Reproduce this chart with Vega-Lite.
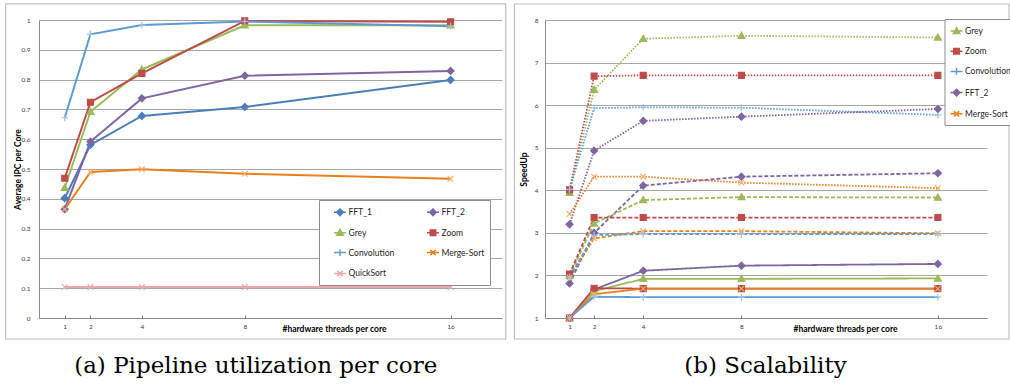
{
  "$schema": "https://vega.github.io/schema/vega-lite/v6.json",
  "padding": {"left": 5, "top": 3, "right": 0, "bottom": 0},
  "spacing": 6,
  "background": "white",
  "config": {"view": {"stroke": null}, "font": "Lato"},
  "resolve": {"scale": {"stroke": "independent", "fill": "independent", "shape": "independent", "x": "independent", "y": "independent", "strokeDash": "independent"}, "legend": {"stroke": "independent"}},
  "hconcat": [
    {
      "width": 463,
      "height": 298,
      "title": {"text": "(a) Pipeline utilization per core", "orient": "bottom", "anchor": "middle", "frame": "bounds", "font": "DejaVu Serif", "fontSize": 23, "fontWeight": "normal", "color": "#000000", "offset": 15},
      "data": {"values": [
        {"series": "FFT_1", "threads": 1, "ipc": 0.402}, {"series": "FFT_1", "threads": 2, "ipc": 0.581}, {"series": "FFT_1", "threads": 4, "ipc": 0.678}, {"series": "FFT_1", "threads": 8, "ipc": 0.708}, {"series": "FFT_1", "threads": 16, "ipc": 0.799},
        {"series": "FFT_2", "threads": 1, "ipc": 0.365}, {"series": "FFT_2", "threads": 2, "ipc": 0.592}, {"series": "FFT_2", "threads": 4, "ipc": 0.737}, {"series": "FFT_2", "threads": 8, "ipc": 0.813}, {"series": "FFT_2", "threads": 16, "ipc": 0.829},
        {"series": "Grey", "threads": 1, "ipc": 0.437}, {"series": "Grey", "threads": 2, "ipc": 0.692}, {"series": "Grey", "threads": 4, "ipc": 0.834}, {"series": "Grey", "threads": 8, "ipc": 0.982}, {"series": "Grey", "threads": 16, "ipc": 0.982},
        {"series": "Zoom", "threads": 1, "ipc": 0.469}, {"series": "Zoom", "threads": 2, "ipc": 0.724}, {"series": "Zoom", "threads": 4, "ipc": 0.821}, {"series": "Zoom", "threads": 8, "ipc": 0.997}, {"series": "Zoom", "threads": 16, "ipc": 0.994},
        {"series": "Convolution", "threads": 1, "ipc": 0.672}, {"series": "Convolution", "threads": 2, "ipc": 0.952}, {"series": "Convolution", "threads": 4, "ipc": 0.983}, {"series": "Convolution", "threads": 8, "ipc": 0.995}, {"series": "Convolution", "threads": 16, "ipc": 0.979},
        {"series": "Merge-Sort", "threads": 1, "ipc": 0.365}, {"series": "Merge-Sort", "threads": 2, "ipc": 0.49}, {"series": "Merge-Sort", "threads": 4, "ipc": 0.499}, {"series": "Merge-Sort", "threads": 8, "ipc": 0.484}, {"series": "Merge-Sort", "threads": 16, "ipc": 0.467},
        {"series": "QuickSort", "threads": 1, "ipc": 0.104}, {"series": "QuickSort", "threads": 2, "ipc": 0.104}, {"series": "QuickSort", "threads": 4, "ipc": 0.104}, {"series": "QuickSort", "threads": 8, "ipc": 0.104}, {"series": "QuickSort", "threads": 16, "ipc": 0.104}
      ]},
      "resolve": {"scale": {"stroke": "independent"}},
      "layer": [
        {
          "data": {"values": [{}]},
          "mark": {"type": "rect", "fill": null, "strokeWidth": 1.2, "clip": false},
          "encoding": {
            "x": {"datum": -1.295, "type": "quantitative", "scale": {"domain": [0, 18], "nice": false, "zero": false}, "axis": {"values": [1, 2, 4, 8, 16], "title": "#hardware threads per core", "titleX": 295, "titleY": 10, "titleAlign": "center", "titleBaseline": "middle", "titleFontSize": 8.5, "titleFontWeight": "bold", "titleColor": "#000000", "labelFontSize": 6.5, "labelColor": "#404040", "labelPadding": 8, "tickSize": -3, "tickColor": "#7f7f7f", "domainColor": "#8c8c8c", "grid": false, "labelFlush": false}},
            "x2": {"datum": 18.145},
            "y": {"datum": 1.054, "type": "quantitative", "scale": {"domain": [0, 1], "nice": false, "zero": false}, "axis": {"values": [0, 0.1, 0.2, 0.3, 0.4, 0.5, 0.6, 0.7, 0.8, 0.9, 1], "format": "~g", "title": "Average IPC per Core", "titleX": -22, "titleBaseline": "middle", "titleFontSize": 8.5, "titleFontWeight": "bold", "titleColor": "#000000", "labelFontSize": 6.5, "labelColor": "#404040", "labelPadding": 9, "ticks": false, "grid": true, "gridColor": "#a6a6a6", "domainColor": "#8c8c8c"}},
            "y2": {"datum": -0.0705},
            "stroke": {"value": "#bfbfbf"}
          }
        },
        {
          "mark": {"type": "line", "strokeWidth": 2},
          "encoding": {
            "x": {"field": "threads", "type": "quantitative", "scale": {"domain": [0, 18], "nice": false, "zero": false}, "axis": {"values": [1, 2, 4, 8, 16], "title": "#hardware threads per core", "titleX": 295, "titleY": 10, "titleAlign": "center", "titleBaseline": "middle", "titleFontSize": 8.5, "titleFontWeight": "bold", "titleColor": "#000000", "labelFontSize": 6.5, "labelColor": "#404040", "labelPadding": 8, "tickSize": -3, "tickColor": "#7f7f7f", "domainColor": "#8c8c8c", "grid": false, "labelFlush": false}},
            "y": {"field": "ipc", "type": "quantitative", "scale": {"domain": [0, 1], "nice": false, "zero": false}, "axis": {"values": [0, 0.1, 0.2, 0.3, 0.4, 0.5, 0.6, 0.7, 0.8, 0.9, 1], "format": "~g", "title": "Average IPC per Core", "titleX": -22, "titleBaseline": "middle", "titleFontSize": 8.5, "titleFontWeight": "bold", "titleColor": "#000000", "labelFontSize": 6.5, "labelColor": "#404040", "labelPadding": 9, "ticks": false, "grid": true, "gridColor": "#a6a6a6", "domainColor": "#8c8c8c"}},
            "stroke": {"field": "series", "type": "nominal",
              "scale": {"domain": ["FFT_1", "FFT_2", "Grey", "Zoom", "Convolution", "Merge-Sort", "QuickSort"], "range": ["#4a7ebb", "#8064a2", "#9bbb59", "#be4b48", "#5b9bd5", "#ec7f19", "#eaaaaa"]},
              "legend": {"title": " ", "titleOrient": "left", "titlePadding": 9, "titleFontSize": 8.5, "orient": "none", "direction": "horizontal", "legendX": 280, "legendY": 180, "columns": 2, "padding": 5, "rowPadding": 6.8, "columnPadding": 29, "strokeColor": "#8c8c8c", "fillColor": "white", "symbolSize": 144, "symbolStrokeWidth": 1.5, "labelFont": "Lato", "labelFontSize": 8.5, "labelColor": "#262626", "labelOffset": 1.5,
                "encode": {"symbols": {"update": {
                  "shape": {"signal": "{'FFT_1':'M-1,0H1M0,-0.55L0.55,0L0,0.55L-0.55,0Z','FFT_2':'M-1,0H1M0,-0.55L0.55,0L0,0.55L-0.55,0Z','Grey':'M-1,0H1M0,-0.55L0.55,0.4L-0.55,0.4Z','Zoom':'M-1,0H1M-0.45,-0.45H0.45V0.45H-0.45Z','Convolution':'M-1,0H1M0,-0.55V0.55','Merge-Sort':'M-1,0H1M-0.45,-0.45L0.45,0.45M0.45,-0.45L-0.45,0.45','QuickSort':'M-1,0H1M-0.45,-0.45L0.45,0.45M0.45,-0.45L-0.45,0.45'}[datum.value]"},
                  "stroke": {"signal": "{'FFT_1':'#4a7ebb','FFT_2':'#8064a2','Grey':'#9bbb59','Zoom':'#be4b48','Convolution':'#5b9bd5','Merge-Sort':'#ec7f19','QuickSort':'#eaaaaa'}[datum.value]"},
                  "fill": {"signal": "{'FFT_1':'#4a7ebb','FFT_2':'#8064a2','Grey':'#9bbb59','Zoom':'#be4b48','Convolution':'transparent','Merge-Sort':'transparent','QuickSort':'transparent'}[datum.value]"},
                  "strokeWidth": {"value": 1.5},
                  "strokeDash": {"value": []},
                  "opacity": {"value": 1}
                }}}
              }
            }
          }
        },
        {
          "mark": {"type": "point", "strokeWidth": 1.2, "opacity": 1, "size": 49},
          "encoding": {
            "x": {"field": "threads", "type": "quantitative", "scale": {"domain": [0, 18], "nice": false, "zero": false}, "axis": {"values": [1, 2, 4, 8, 16], "title": "#hardware threads per core", "titleX": 295, "titleY": 10, "titleAlign": "center", "titleBaseline": "middle", "titleFontSize": 8.5, "titleFontWeight": "bold", "titleColor": "#000000", "labelFontSize": 6.5, "labelColor": "#404040", "labelPadding": 8, "tickSize": -3, "tickColor": "#7f7f7f", "domainColor": "#8c8c8c", "grid": false, "labelFlush": false}},
            "y": {"field": "ipc", "type": "quantitative", "scale": {"domain": [0, 1], "nice": false, "zero": false}, "axis": {"values": [0, 0.1, 0.2, 0.3, 0.4, 0.5, 0.6, 0.7, 0.8, 0.9, 1], "format": "~g", "title": "Average IPC per Core", "titleX": -22, "titleBaseline": "middle", "titleFontSize": 8.5, "titleFontWeight": "bold", "titleColor": "#000000", "labelFontSize": 6.5, "labelColor": "#404040", "labelPadding": 9, "ticks": false, "grid": true, "gridColor": "#a6a6a6", "domainColor": "#8c8c8c"}},
            "shape": {"field": "series", "type": "nominal", "legend": null, "scale": {"domain": ["FFT_1", "FFT_2", "Grey", "Zoom", "Convolution", "Merge-Sort", "QuickSort"], "range": ["M0,-1L1,0L0,1L-1,0Z", "M0,-1L1,0L0,1L-1,0Z", "M0,-1L1,0.75L-1,0.75Z", "M-0.85,-0.85H0.85V0.85H-0.85Z", "M-1,0H1M0,-1V1", "M-0.8,-0.8L0.8,0.8M0.8,-0.8L-0.8,0.8", "M-0.8,-0.8L0.8,0.8M0.8,-0.8L-0.8,0.8"]}},
            "fill": {"field": "series", "type": "nominal", "legend": null, "scale": {"domain": ["FFT_1", "FFT_2", "Grey", "Zoom", "Convolution", "Merge-Sort", "QuickSort"], "range": ["#4a7ebb", "#8064a2", "#9bbb59", "#be4b48", "transparent", "transparent", "transparent"]}},
            "stroke": {"field": "series", "type": "nominal", "legend": null, "scale": {"domain": ["FFT_1", "FFT_2", "Grey", "Zoom", "Convolution", "Merge-Sort", "QuickSort"], "range": ["#4a7ebb", "#8064a2", "#9bbb59", "#be4b48", "#9dc3e6", "#f7ad66", "#eaaaaa"]}}
          }
        }
      ]
    },
    {
      "width": 442,
      "height": 298,
      "title": {"text": "(b) Scalability", "orient": "bottom", "anchor": "middle", "frame": "bounds", "font": "DejaVu Serif", "fontSize": 23, "fontWeight": "normal", "color": "#000000", "offset": 15},
      "data": {"values": [
        {"series": "Grey", "style": "dotted", "threads": 1, "speedup": 3.94}, {"series": "Grey", "style": "dotted", "threads": 2, "speedup": 6.36}, {"series": "Grey", "style": "dotted", "threads": 4, "speedup": 7.56}, {"series": "Grey", "style": "dotted", "threads": 8, "speedup": 7.63}, {"series": "Grey", "style": "dotted", "threads": 16, "speedup": 7.59},
        {"series": "Zoom", "style": "dotted", "threads": 1, "speedup": 4.01}, {"series": "Zoom", "style": "dotted", "threads": 2, "speedup": 6.68}, {"series": "Zoom", "style": "dotted", "threads": 4, "speedup": 6.7}, {"series": "Zoom", "style": "dotted", "threads": 8, "speedup": 6.7}, {"series": "Zoom", "style": "dotted", "threads": 16, "speedup": 6.7},
        {"series": "Convolution", "style": "dotted", "threads": 1, "speedup": 4.02}, {"series": "Convolution", "style": "dotted", "threads": 2, "speedup": 5.93}, {"series": "Convolution", "style": "dotted", "threads": 4, "speedup": 5.95}, {"series": "Convolution", "style": "dotted", "threads": 8, "speedup": 5.94}, {"series": "Convolution", "style": "dotted", "threads": 16, "speedup": 5.77},
        {"series": "FFT_2", "style": "dotted", "threads": 1, "speedup": 3.2}, {"series": "FFT_2", "style": "dotted", "threads": 2, "speedup": 4.93}, {"series": "FFT_2", "style": "dotted", "threads": 4, "speedup": 5.63}, {"series": "FFT_2", "style": "dotted", "threads": 8, "speedup": 5.73}, {"series": "FFT_2", "style": "dotted", "threads": 16, "speedup": 5.91},
        {"series": "Merge-Sort", "style": "dotted", "threads": 1, "speedup": 3.44}, {"series": "Merge-Sort", "style": "dotted", "threads": 2, "speedup": 4.32}, {"series": "Merge-Sort", "style": "dotted", "threads": 4, "speedup": 4.32}, {"series": "Merge-Sort", "style": "dotted", "threads": 8, "speedup": 4.18}, {"series": "Merge-Sort", "style": "dotted", "threads": 16, "speedup": 4.05},
        {"series": "FFT_2", "style": "dashed", "threads": 1, "speedup": 1.81}, {"series": "FFT_2", "style": "dashed", "threads": 2, "speedup": 3.0}, {"series": "FFT_2", "style": "dashed", "threads": 4, "speedup": 4.11}, {"series": "FFT_2", "style": "dashed", "threads": 8, "speedup": 4.32}, {"series": "FFT_2", "style": "dashed", "threads": 16, "speedup": 4.4},
        {"series": "Grey", "style": "dashed", "threads": 1, "speedup": 1.99}, {"series": "Grey", "style": "dashed", "threads": 2, "speedup": 3.22}, {"series": "Grey", "style": "dashed", "threads": 4, "speedup": 3.77}, {"series": "Grey", "style": "dashed", "threads": 8, "speedup": 3.84}, {"series": "Grey", "style": "dashed", "threads": 16, "speedup": 3.83},
        {"series": "Zoom", "style": "dashed", "threads": 1, "speedup": 2.03}, {"series": "Zoom", "style": "dashed", "threads": 2, "speedup": 3.36}, {"series": "Zoom", "style": "dashed", "threads": 4, "speedup": 3.36}, {"series": "Zoom", "style": "dashed", "threads": 8, "speedup": 3.36}, {"series": "Zoom", "style": "dashed", "threads": 16, "speedup": 3.36},
        {"series": "Merge-Sort", "style": "dashed", "threads": 1, "speedup": 1.95}, {"series": "Merge-Sort", "style": "dashed", "threads": 2, "speedup": 2.87}, {"series": "Merge-Sort", "style": "dashed", "threads": 4, "speedup": 3.04}, {"series": "Merge-Sort", "style": "dashed", "threads": 8, "speedup": 3.04}, {"series": "Merge-Sort", "style": "dashed", "threads": 16, "speedup": 2.99},
        {"series": "Convolution", "style": "dashed", "threads": 1, "speedup": 1.96}, {"series": "Convolution", "style": "dashed", "threads": 2, "speedup": 2.95}, {"series": "Convolution", "style": "dashed", "threads": 4, "speedup": 2.97}, {"series": "Convolution", "style": "dashed", "threads": 8, "speedup": 2.97}, {"series": "Convolution", "style": "dashed", "threads": 16, "speedup": 2.97},
        {"series": "FFT_2", "style": "solid", "threads": 1, "speedup": 1.0}, {"series": "FFT_2", "style": "solid", "threads": 2, "speedup": 1.67}, {"series": "FFT_2", "style": "solid", "threads": 4, "speedup": 2.11}, {"series": "FFT_2", "style": "solid", "threads": 8, "speedup": 2.23}, {"series": "FFT_2", "style": "solid", "threads": 16, "speedup": 2.27},
        {"series": "Grey", "style": "solid", "threads": 1, "speedup": 1.0}, {"series": "Grey", "style": "solid", "threads": 2, "speedup": 1.63}, {"series": "Grey", "style": "solid", "threads": 4, "speedup": 1.92}, {"series": "Grey", "style": "solid", "threads": 8, "speedup": 1.92}, {"series": "Grey", "style": "solid", "threads": 16, "speedup": 1.93},
        {"series": "Zoom", "style": "solid", "threads": 1, "speedup": 1.0}, {"series": "Zoom", "style": "solid", "threads": 2, "speedup": 1.7}, {"series": "Zoom", "style": "solid", "threads": 4, "speedup": 1.69}, {"series": "Zoom", "style": "solid", "threads": 8, "speedup": 1.69}, {"series": "Zoom", "style": "solid", "threads": 16, "speedup": 1.69},
        {"series": "Merge-Sort", "style": "solid", "threads": 1, "speedup": 1.0}, {"series": "Merge-Sort", "style": "solid", "threads": 2, "speedup": 1.56}, {"series": "Merge-Sort", "style": "solid", "threads": 4, "speedup": 1.69}, {"series": "Merge-Sort", "style": "solid", "threads": 8, "speedup": 1.69}, {"series": "Merge-Sort", "style": "solid", "threads": 16, "speedup": 1.69},
        {"series": "Convolution", "style": "solid", "threads": 1, "speedup": 1.0}, {"series": "Convolution", "style": "solid", "threads": 2, "speedup": 1.5}, {"series": "Convolution", "style": "solid", "threads": 4, "speedup": 1.49}, {"series": "Convolution", "style": "solid", "threads": 8, "speedup": 1.49}, {"series": "Convolution", "style": "solid", "threads": 16, "speedup": 1.49}
      ]},
      "resolve": {"scale": {"stroke": "independent"}},
      "layer": [
        {
          "data": {"values": [{}]},
          "mark": {"type": "rect", "fill": null, "strokeWidth": 1.2, "clip": false},
          "encoding": {
            "x": {"datum": -1.243, "type": "quantitative", "scale": {"domain": [0, 18], "nice": false, "zero": false}, "axis": {"values": [1, 2, 4, 8, 16], "title": "#hardware threads per core", "titleX": 300, "titleY": 10, "titleAlign": "center", "titleBaseline": "middle", "titleFontSize": 8.5, "titleFontWeight": "bold", "titleColor": "#000000", "labelFontSize": 6.5, "labelColor": "#404040", "labelPadding": 8, "tickSize": -3, "tickColor": "#7f7f7f", "domainColor": "#8c8c8c", "grid": false, "labelFlush": false}},
            "x2": {"datum": 18.9},
            "y": {"datum": 8.376, "type": "quantitative", "scale": {"domain": [1, 8], "nice": false, "zero": false}, "axis": {"values": [1, 2, 3, 4, 5, 6, 7, 8], "format": "d", "title": "SpeedUp", "titleX": -21.5, "titleBaseline": "middle", "titleFontSize": 8.5, "titleFontWeight": "bold", "titleColor": "#000000", "labelFontSize": 6.5, "labelColor": "#404040", "labelPadding": 7, "ticks": false, "grid": true, "gridColor": "#a6a6a6", "domainColor": "#8c8c8c"}},
            "y2": {"datum": 0.507},
            "stroke": {"value": "#bfbfbf"}
          }
        },
        {
          "mark": {"type": "line", "strokeWidth": 1.8},
          "encoding": {
            "x": {"field": "threads", "type": "quantitative", "scale": {"domain": [0, 18], "nice": false, "zero": false}, "axis": {"values": [1, 2, 4, 8, 16], "title": "#hardware threads per core", "titleX": 300, "titleY": 10, "titleAlign": "center", "titleBaseline": "middle", "titleFontSize": 8.5, "titleFontWeight": "bold", "titleColor": "#000000", "labelFontSize": 6.5, "labelColor": "#404040", "labelPadding": 8, "tickSize": -3, "tickColor": "#7f7f7f", "domainColor": "#8c8c8c", "grid": false, "labelFlush": false}},
            "y": {"field": "speedup", "type": "quantitative", "scale": {"domain": [1, 8], "nice": false, "zero": false}, "axis": {"values": [1, 2, 3, 4, 5, 6, 7, 8], "format": "d", "title": "SpeedUp", "titleX": -21.5, "titleBaseline": "middle", "titleFontSize": 8.5, "titleFontWeight": "bold", "titleColor": "#000000", "labelFontSize": 6.5, "labelColor": "#404040", "labelPadding": 7, "ticks": false, "grid": true, "gridColor": "#a6a6a6", "domainColor": "#8c8c8c"}},
            "strokeDash": {"field": "style", "type": "nominal", "legend": null, "scale": {"domain": ["dotted", "dashed", "solid"], "range": [[1.5, 1.5], [4, 2], [1, 0]]}},
            "stroke": {"field": "series", "type": "nominal",
              "scale": {"domain": ["Grey", "Zoom", "Convolution", "FFT_2", "Merge-Sort"], "range": ["#9bbb59", "#be4b48", "#5b9bd5", "#8064a2", "#ec7f19"]},
              "legend": {"title": null, "orient": "none", "legendX": 399.5, "legendY": -1, "padding": 5, "rowPadding": 7.2, "strokeColor": "#8c8c8c", "fillColor": "white", "symbolSize": 144, "symbolStrokeWidth": 1.5, "labelFont": "Lato", "labelFontSize": 8.5, "labelColor": "#262626", "labelOffset": 1.5,
                "encode": {"symbols": {"update": {
                  "shape": {"signal": "{'FFT_2':'M-1,0H1M0,-0.55L0.55,0L0,0.55L-0.55,0Z','Grey':'M-1,0H1M0,-0.55L0.55,0.4L-0.55,0.4Z','Zoom':'M-1,0H1M-0.45,-0.45H0.45V0.45H-0.45Z','Convolution':'M-1,0H1M0,-0.55V0.55','Merge-Sort':'M-1,0H1M-0.45,-0.45L0.45,0.45M0.45,-0.45L-0.45,0.45'}[datum.value]"},
                  "stroke": {"signal": "{'FFT_2':'#8064a2','Grey':'#9bbb59','Zoom':'#be4b48','Convolution':'#5b9bd5','Merge-Sort':'#ec7f19'}[datum.value]"},
                  "fill": {"signal": "{'FFT_2':'#8064a2','Grey':'#9bbb59','Zoom':'#be4b48','Convolution':'transparent','Merge-Sort':'transparent'}[datum.value]"},
                  "strokeWidth": {"value": 1.5},
                  "strokeDash": {"value": []},
                  "opacity": {"value": 1}
                }}}
              }
            }
          }
        },
        {
          "mark": {"type": "point", "strokeWidth": 1.2, "opacity": 1, "size": 49},
          "encoding": {
            "x": {"field": "threads", "type": "quantitative", "scale": {"domain": [0, 18], "nice": false, "zero": false}, "axis": {"values": [1, 2, 4, 8, 16], "title": "#hardware threads per core", "titleX": 300, "titleY": 10, "titleAlign": "center", "titleBaseline": "middle", "titleFontSize": 8.5, "titleFontWeight": "bold", "titleColor": "#000000", "labelFontSize": 6.5, "labelColor": "#404040", "labelPadding": 8, "tickSize": -3, "tickColor": "#7f7f7f", "domainColor": "#8c8c8c", "grid": false, "labelFlush": false}},
            "y": {"field": "speedup", "type": "quantitative", "scale": {"domain": [1, 8], "nice": false, "zero": false}, "axis": {"values": [1, 2, 3, 4, 5, 6, 7, 8], "format": "d", "title": "SpeedUp", "titleX": -21.5, "titleBaseline": "middle", "titleFontSize": 8.5, "titleFontWeight": "bold", "titleColor": "#000000", "labelFontSize": 6.5, "labelColor": "#404040", "labelPadding": 7, "ticks": false, "grid": true, "gridColor": "#a6a6a6", "domainColor": "#8c8c8c"}},
            "shape": {"field": "series", "type": "nominal", "legend": null, "scale": {"domain": ["Grey", "Zoom", "Convolution", "FFT_2", "Merge-Sort"], "range": ["M0,-1L1,0.75L-1,0.75Z", "M-0.85,-0.85H0.85V0.85H-0.85Z", "M-1,0H1M0,-1V1", "M0,-1L1,0L0,1L-1,0Z", "M-0.8,-0.8L0.8,0.8M0.8,-0.8L-0.8,0.8"]}},
            "fill": {"field": "series", "type": "nominal", "legend": null, "scale": {"domain": ["Grey", "Zoom", "Convolution", "FFT_2", "Merge-Sort"], "range": ["#9bbb59", "#be4b48", "transparent", "#8064a2", "transparent"]}},
            "stroke": {"field": "series", "type": "nominal", "legend": null, "scale": {"domain": ["Grey", "Zoom", "Convolution", "FFT_2", "Merge-Sort"], "range": ["#9bbb59", "#be4b48", "#9dc3e6", "#8064a2", "#f7ad66"]}}
          }
        }
      ]
    }
  ]
}
